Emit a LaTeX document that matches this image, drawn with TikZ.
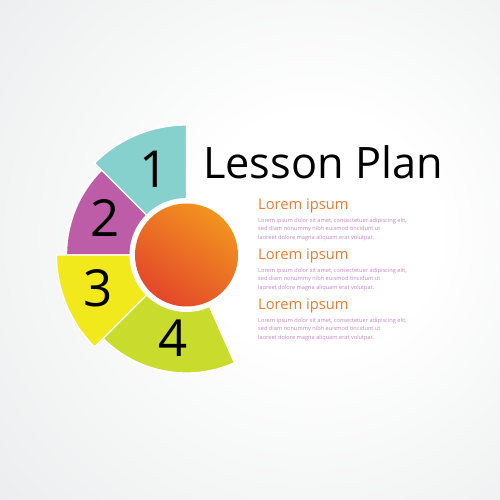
\documentclass[tikz,border=0pt]{standalone}
\usepackage{fontspec}
\setmainfont{Open Sans}
\usetikzlibrary{positioning,calc}

\definecolor{bggray}{HTML}{DFE1E2}
\definecolor{segteal}{HTML}{86D0CD}
\definecolor{segpurple}{HTML}{BD5CA7}
\definecolor{segyellow}{HTML}{F1E91C}
\definecolor{seglime}{HTML}{C9DC2D}
\definecolor{orangehi}{HTML}{F2941F}
\definecolor{orangelo}{HTML}{E3472A}
\definecolor{headorange}{HTML}{F07A2E}
\definecolor{bodypurple}{HTML}{C486C4}

\pgfdeclareradialshading{bgglow}{\pgfpoint{8bp}{2bp}}{color(0bp)=(white);
  color(12bp)=(white); color(58bp)=(bggray); color(80bp)=(bggray)}

\begin{document}
\begin{tikzpicture}[x=1pt,y=1pt]

        \def\rin{51.5}
        \def\ring{57}

        \tikzset{
            sector/.style={draw=white, line width=1.3pt, line join=round},
            digit/.style={font=\fontsize{51}{51}\selectfont, inner sep=0pt},
            head/.style={font=\fontsize{14.7}{15}\selectfont, text=headorange,
                anchor=base west, inner sep=0pt},
            body/.style={font=\fontsize{5.65}{8.3}\selectfont, text=bodypurple,
                align=left, anchor=north west, inner sep=0pt}
        }

        % Background with a soft light spot
        \useasboundingbox (0,0) rectangle (500,500);
        \shade[shading=bgglow] (0,0) rectangle (500,500);

        \coordinate (C) at (186.5,245);

        % Sectors round the centre: 2 under 1, 4 under 3
        \begin{scope}
            \filldraw[sector, fill=segpurple] (C) -- +(135:120)
                arc[start angle=135, end angle=180, radius=120] -- cycle;
            \filldraw[sector, fill=segteal] (C) -- +(90:130)
                arc[start angle=90, end angle=135, radius=130] -- cycle;
            \filldraw[sector, fill=seglime] (C) -- +(225:118)
                arc[start angle=225, end angle=294, radius=118] -- cycle;
            \filldraw[sector, fill=segyellow] (C) -- +(180:130)
                arc[start angle=180, end angle=225, radius=130] -- cycle;
        \end{scope}

        % Centre disc with its white rim
        \fill[white] (C) circle (\ring);
        \shade[top color=orangehi, bottom color=orangelo, shading angle=-35]
            (C) circle (\rin);

        % Numbers
        \node[digit] (N1) at ($(C)+(110.7:92)$) {1};
        \node[digit] (N2) at ($(C)+(155.6:89.5)$) {2};
        \node[digit] (N3) at ($(C)+(200.5:94.5)$) {3};
        \node[digit] (N4) at ($(C)+(260.8:84)$) {4};

        % Title
        \node[font=\fontsize{43.3}{44}\selectfont, anchor=base west, inner sep=0pt]
            (title) at (203,321) {Lesson Plan};

        % Three text blocks
        \foreach \i/\y in {1/290, 2/240, 3/190} {
            \node[head] (H\i) at (258,\y) {Lorem ipsum};
            \node[body] (B\i) at ($(H\i.base west)+(0,-8)$)
            {Lorem ipsum dolor sit amet, consectetuer adipiscing elit,\\
             sed diam nonummy nibh euismod tincidunt ut\\
             laoreet dolore magna aliquam erat volutpat.};
        }

\end{tikzpicture}
\end{document}
